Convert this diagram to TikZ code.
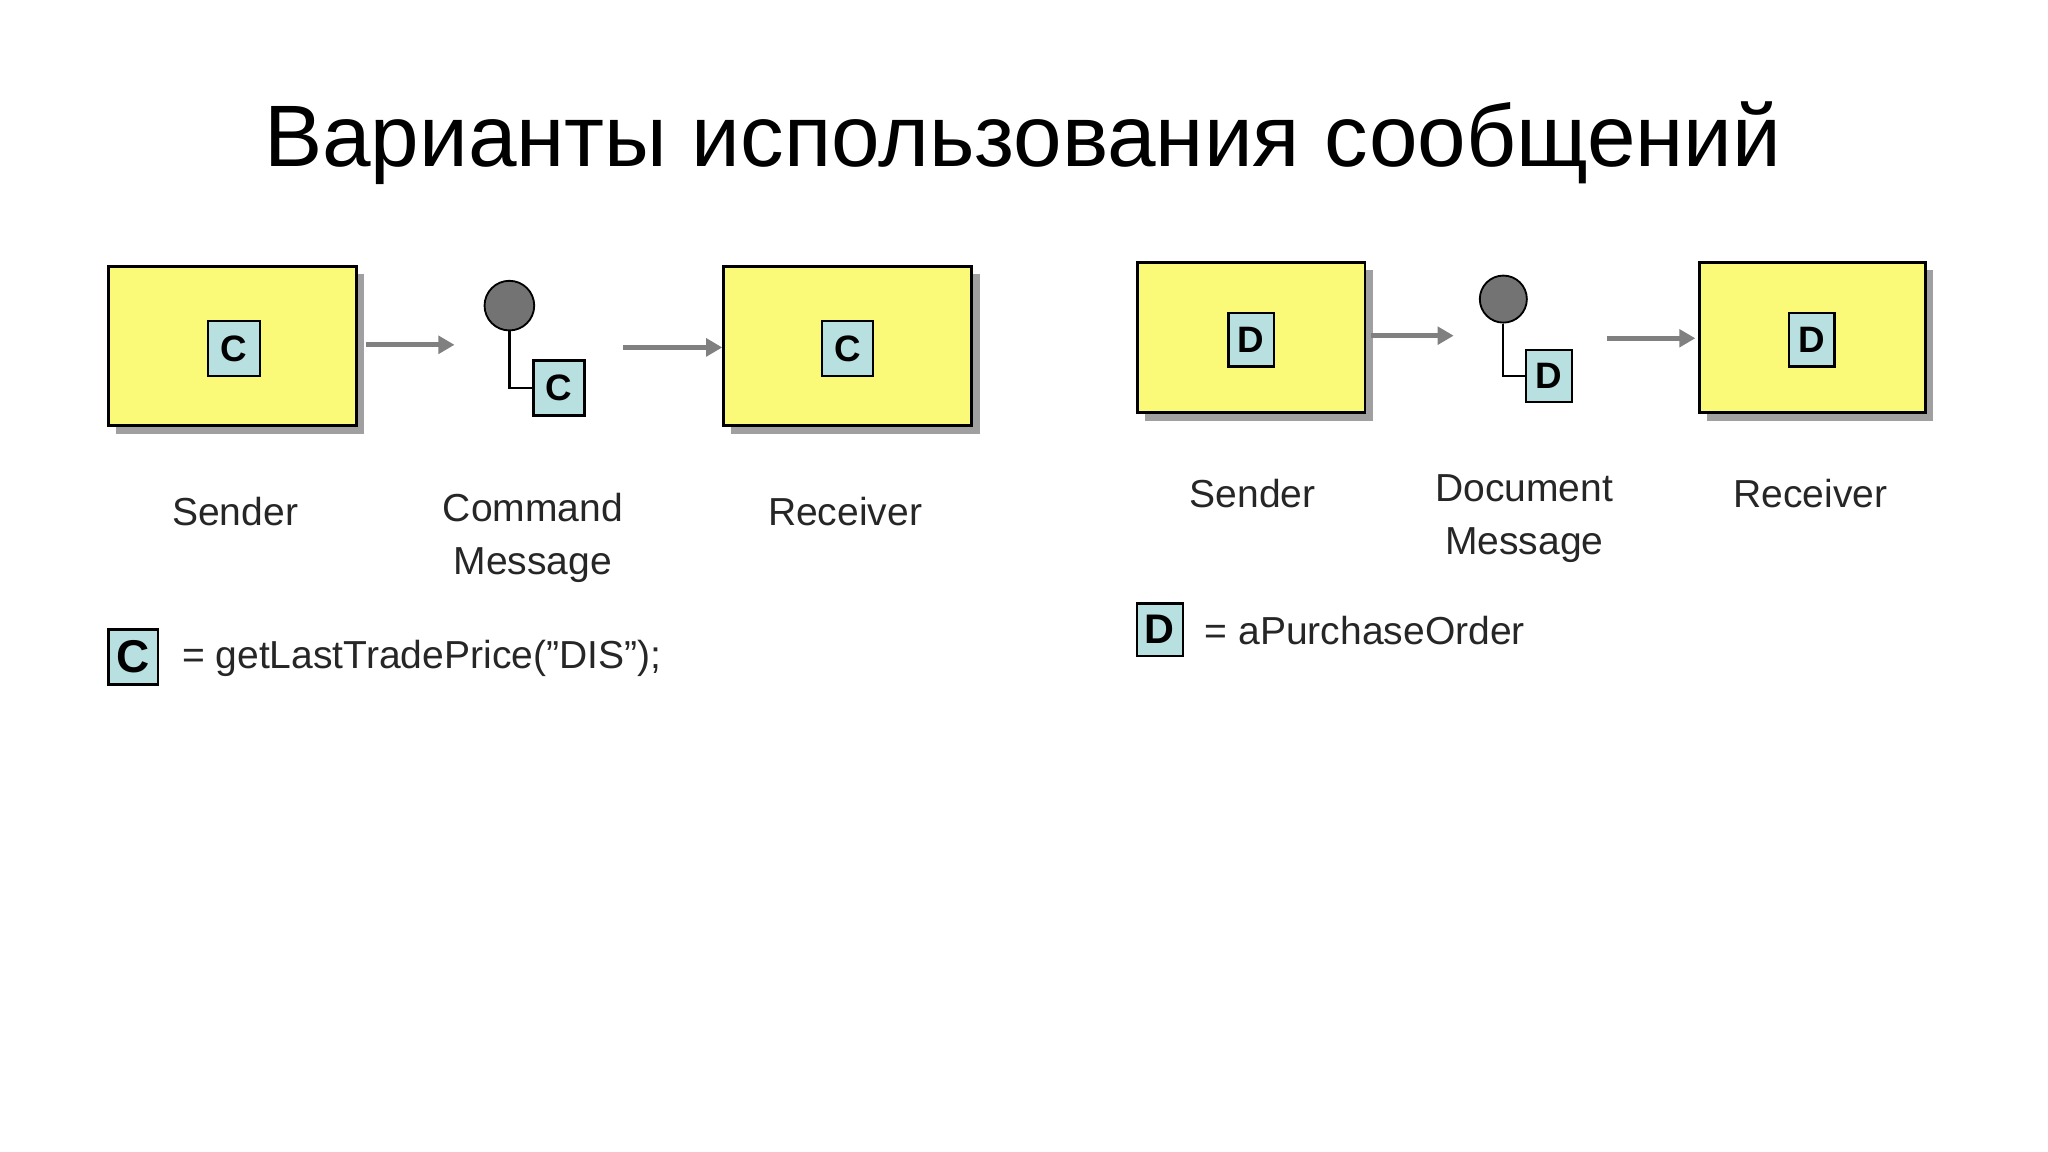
\documentclass[tikz,border=0pt]{standalone}
\usepackage{fontspec}
\setmainfont{Liberation Sans}
\usetikzlibrary{arrows.meta}
\definecolor{ybox}{HTML}{FAFA78}
\definecolor{lbox}{HTML}{B8E0E0}
\definecolor{shd}{HTML}{A0A0A0}
\definecolor{arr}{HTML}{808080}
\tikzset{
 yel/.style={draw=black,line width=0.6pt,fill=ybox},
 let/.style={draw=black,line width=0.5pt,fill=lbox,inner sep=0pt,font=\fontsize{8}{8}\selectfont\bfseries},
 lab/.style={font=\fontsize{8.5}{11.5}\selectfont,align=center,text=black!85},
 flow/.style={draw=arr,line width=1.1pt,-{Triangle[length=3.5pt,width=3.8pt]}},
}
\begin{document}
\begin{tikzpicture}[x=0.01cm,y=-0.01cm]
\useasboundingbox (0,0) rectangle (1568,882);
\node[font=\fontsize{19}{19}\selectfont] (title) at (783,110) {Варианты использования сообщений};
% left
\fill[shd] (89,210) rectangle (279,332);
\draw[yel] (83,204) rectangle (273,326);
\fill[shd] (560,210) rectangle (750,332);
\draw[yel] (554,204) rectangle (744,326);
\node[let,minimum width=0.40cm,minimum height=0.42cm] (c1) at (179,267) {C};
\node[let,minimum width=0.39cm,minimum height=0.42cm] (c3) at (649,267) {C};
\node[circle,draw=black,fill=arr!110,minimum size=0.38cm,inner sep=0pt,line width=0.4pt] (m1) at (390,234) {};
\node[let,minimum width=0.39cm,minimum height=0.42cm] (c2) at (428,297) {C};
\draw[line width=0.5pt] (m1.south) |- (c2.west);
\coordinate (a1s) at (280,264); \coordinate (a1e) at (348,264);
\coordinate (a2s) at (477,266); \coordinate (a2e) at (553,266);
\draw[flow] (a1s) -- (a1e);
\draw[flow] (a2s) -- (a2e);
\node[lab] (ls) at (180,392) {Sender};
\node[lab] (lc) at (408,412) {Command\\Message};
\node[lab] (lr) at (647,392) {Receiver};
\node[let,minimum width=0.38cm,minimum height=0.42cm,font=\fontsize{10}{10}\selectfont\bfseries] (lgc) at (102,503) {C};
\node[lab,anchor=west] (lgct) at (127,504) {= getLastTradePrice("DIS");};
% right
\fill[shd] (877,207) rectangle (1051,322);
\draw[yel] (871,201) rectangle (1045,316);
\fill[shd] (1307,207) rectangle (1480,322);
\draw[yel] (1301,201) rectangle (1474,316);
\node[let,minimum width=0.35cm,minimum height=0.41cm] (d1) at (958,260) {D};
\node[let,minimum width=0.35cm,minimum height=0.41cm] (d3) at (1387,260) {D};
\node[circle,draw=black,fill=arr!110,minimum size=0.36cm,inner sep=0pt,line width=0.4pt] (m2) at (1151,229) {};
\node[let,minimum width=0.35cm,minimum height=0.40cm] (d2) at (1186,288) {D};
\draw[line width=0.5pt] (m2.south) |- (d2.west);
\coordinate (b1s) at (1050,257); \coordinate (b1e) at (1113,257);
\coordinate (b2s) at (1230,259); \coordinate (b2e) at (1298,259);
\draw[flow] (b1s) -- (b1e);
\draw[flow] (b2s) -- (b2e);
\node[lab] (rs) at (959,378) {Sender};
\node[lab] (rd) at (1167,397) {Document\\Message};
\node[lab] (rr) at (1386,378) {Receiver};
\node[let,minimum width=0.35cm,minimum height=0.40cm,font=\fontsize{9}{9}\selectfont\bfseries] (lgd) at (888,482) {D};
\node[lab,anchor=west] (lgdt) at (910,483) {= aPurchaseOrder};
\end{tikzpicture}
\end{document}
